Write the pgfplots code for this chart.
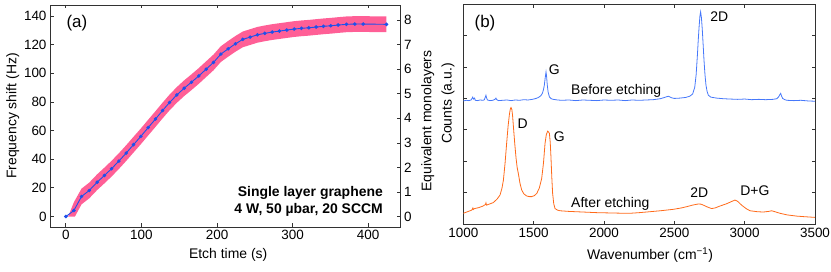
\documentclass[border=0pt]{standalone}
\usepackage{fontspec}
\setmainfont{Liberation Sans}
\usepackage{pgfplots}
\pgfplotsset{compat=1.18}
\definecolor{bandpink}{RGB}{255,95,150}
\definecolor{ptblue}{RGB}{30,80,235}
\definecolor{specblue}{RGB}{70,120,250}
\definecolor{specorange}{RGB}{255,106,26}
\definecolor{axgray}{RGB}{50,50,50}
\pgfplotsset{
  base/.style={
    scale only axis,
    font=\fontsize{14}{16}\selectfont,
    tick label style={font=\fontsize{13.5}{15}\selectfont},
    /pgf/number format/assume math mode=true,
    /pgf/number format/1000 sep={},
    tick align=inside,
    major tick length=3.5bp,
    axis line style={axgray, line width=0.8bp},
    every tick/.style={axgray, line width=0.8bp},
    clip=true,
  }
}
\begin{document}
\begin{tikzpicture}
\useasboundingbox (0bp,0bp) rectangle (831bp,272bp);
% ---------------- panel (a) ----------------
\begin{axis}[base,
  width=350.7bp, height=222bp, at={(50bp,45bp)}, anchor=south west,
  xmin=-21, xmax=443, ymin=-7.3, ymax=147.7,
  xtick={0,100,...,400}, ytick={0,20,...,140},
  ytick pos=left,
  xlabel={Etch time (s)}, ylabel={Frequency shift (Hz)},
  xlabel style={at={(axis description cs:0.508,-0.126)}, anchor=center},
  ylabel style={at={(axis description cs:-0.106,0.5)}, anchor=center},
]
\addplot[fill=bandpink, draw=none, forget plot] coordinates {
(3,0) (10.6,10) (20.7,19.5) (30.9,23.7) (41.4,29.5) (51.1,34.2) (60.4,38.9) (70.1,44.2)
(79.8,49.8) (89.5,55.7) (99.2,61.5) (108.9,67.6) (118.6,73.6) (127.9,79.5) (137.1,85.1)
(146.8,90.4) (156.5,95.1) (166.2,99.3) (175.9,103.7) (185.6,108.4) (195.3,113.1) (205.0,118.9)
(214.7,122.6) (224.4,126.1) (234.1,129.2) (243.8,130.8) (253.5,132.4) (263.2,133.4) (272.9,134.3)
(282.6,135.0) (292.3,135.7) (302.0,136.4) (311.7,136.9) (321.4,137.3) (331.1,137.8) (340.8,138.3)
(350.5,138.7) (360.2,139.2) (371.2,139.7) (382.3,139.9) (393.3,139.9) (424.2,139.7)
(424.2,128.7) (393.3,128.9) (382.3,128.9) (371.2,128.7) (360.2,128.2) (350.5,127.7) (340.8,127.3)
(331.1,126.8) (321.4,126.3) (311.7,125.9) (302.0,125.4) (292.3,124.7) (282.6,124.0) (272.9,123.3)
(263.2,122.4) (253.5,121.4) (243.8,119.8) (234.1,118.2) (224.4,115.1) (214.7,111.6) (205.0,107.9)
(195.3,102.1) (185.6,97.4) (175.9,92.7) (166.2,88.3) (156.5,84.1) (146.8,79.4) (137.1,74.1)
(127.9,68.5) (118.6,62.6) (108.9,56.6) (99.2,50.5) (89.5,44.7) (79.8,38.8) (70.1,33.2)
(60.4,27.9) (51.1,23.2) (41.4,18.5) (30.9,12.7) (20.7,8.5) (12,0) (3,0)
};
\addplot[ptblue, line width=0.9bp, mark=*, mark size=1.3bp, mark options={draw=ptblue, fill=ptblue}] coordinates {
(0,0) (10.6,4.2) (20.7,14.0) (30.9,18.2) (41.4,24.0) (51.1,28.7) (60.4,33.4) (70.1,38.7)
(79.8,44.3) (89.5,50.2) (99.2,56.0) (108.9,62.1) (118.6,68.1) (127.9,74.0) (137.1,79.6)
(146.8,84.9) (156.5,89.6) (166.2,93.8) (175.9,98.2) (185.6,102.9) (195.3,107.6) (205.0,113.4)
(214.7,117.1) (224.4,120.6) (234.1,123.7) (243.8,125.3) (253.5,126.9) (263.2,127.9) (272.9,128.8)
(282.6,129.5) (292.3,130.2) (302.0,130.9) (311.7,131.4) (321.4,131.8) (331.1,132.3) (340.8,132.8)
(350.5,133.2) (360.2,133.7) (371.2,134.2) (382.3,134.4) (393.3,134.4) (424.2,134.2)
};
\node[font=\fontsize{17}{19}\selectfont, anchor=center] at (axis cs:14.6,135) {(a)};
\node[font=\fontsize{14}{17}\selectfont\bfseries, align=right, anchor=east] at (axis cs:424,10.5)
  {Single layer graphene\\4 W, 50 \textmu bar, 20 SCCM};
\end{axis}
\begin{axis}[base,
  width=350.7bp, height=222bp, at={(50bp,45bp)}, anchor=south west,
  xmin=-21, xmax=443, ymin=-0.42, ymax=8.61,
  axis x line=none, axis y line*=right,
  ytick={0,1,...,8},
  ylabel={Equivalent monolayers},
  ylabel style={at={(axis description cs:1.077,0.477)}, anchor=center},
]
\end{axis}
% ---------------- panel (b) ----------------
\begin{axis}[base,
  width=351.7bp, height=220.3bp, at={(463.3bp,47.7bp)}, anchor=south west,
  xmin=1000, xmax=3500, ymin=0, ymax=7,
  xtick={1000,1500,...,3500}, ytick={0,1,...,7}, yticklabels={},
  xlabel={Wavenumber (cm\textsuperscript{\char"2212 1})}, ylabel={Counts (a.u.)},
  xlabel style={at={(axis description cs:0.531,-0.139)}, anchor=center},
  ylabel style={at={(axis description cs:-0.0435,0.548)}, anchor=center},
]
\addplot[specblue, line width=0.8bp] coordinates {
(1000,3.92) (1020,3.94) (1040,3.93) (1055,3.95) (1062,4.00) (1067,4.04) (1072,3.98) (1080,4.01)
(1085,3.94) (1100,3.93) (1120,3.95) (1140,3.94) (1150,3.96) (1157,4.05) (1161,4.10) (1165,4.02)
(1172,3.95) (1190,3.93) (1210,3.94) (1225,3.97) (1232,4.01) (1238,3.96) (1250,3.93) (1280,3.94)
(1310,3.95) (1340,3.93) (1370,3.95) (1400,3.94) (1430,3.96) (1460,3.95) (1490,3.97) (1510,3.99)
(1530,4.02) (1550,4.08) (1562,4.16) (1570,4.28) (1576,4.42) (1582,4.65) (1588,4.84) (1592,4.70)
(1597,4.42) (1603,4.20) (1612,4.05) (1625,3.99) (1640,3.97) (1670,3.95) (1700,3.94) (1750,3.95)
(1800,3.93) (1850,3.95) (1900,3.94) (1950,3.93) (2000,3.95) (2050,3.94) (2100,3.95) (2150,3.93)
(2200,3.95) (2250,3.94) (2300,3.95) (2350,3.96) (2400,3.99) (2430,4.03) (2458,4.07) (2480,4.02)
(2500,4.00) (2540,4.01) (2580,4.03) (2610,4.07) (2630,4.14) (2645,4.35) (2655,4.75) (2664,5.37)
(2670,5.85) (2676,6.27) (2682,6.62) (2687,6.75) (2693,6.55) (2699,6.17) (2705,5.70) (2711,5.21)
(2718,4.75) (2725,4.42) (2733,4.22) (2742,4.10) (2760,4.04) (2801,4.01) (2850,3.99) (2896,3.98)
(2950,3.97) (3000,3.98) (3050,3.96) (3100,3.97) (3150,3.96) (3200,3.97) (3228,3.99) (3240,4.04)
(3250,4.12) (3256,4.16) (3262,4.08) (3270,4.00) (3285,3.96) (3300,3.94) (3350,3.93) (3400,3.94)
(3450,3.92) (3500,3.91)
};
\addplot[specorange, line width=0.8bp] coordinates {
(1000,0.35) (1030,0.40) (1060,0.45) (1068,0.52) (1071,0.47) (1080,0.50) (1110,0.53) (1140,0.58)
(1158,0.63) (1161,0.68) (1165,0.61) (1190,0.65) (1213,0.69) (1240,0.80) (1261,0.93) (1275,1.15)
(1285,1.40) (1297,1.95) (1308,2.57) (1318,3.10) (1327,3.47) (1334,3.66) (1339,3.71) (1345,3.65)
(1350,3.47) (1358,3.00) (1366,2.55) (1375,2.10) (1383,1.80) (1391,1.62) (1403,1.30) (1415,1.09)
(1430,0.97) (1450,0.90) (1470,0.88) (1486,0.88) (1505,0.91) (1522,0.98) (1540,1.15) (1557,1.45)
(1570,1.95) (1581,2.57) (1590,2.85) (1600,2.96) (1606,2.93) (1612,2.89) (1618,2.60) (1623,2.15)
(1629,1.50) (1635,0.98) (1643,0.65) (1652,0.50) (1670,0.45) (1687,0.43) (1750,0.41) (1850,0.39)
(1950,0.37) (2050,0.36) (2150,0.35) (2185,0.35) (2250,0.37) (2327,0.40) (2400,0.43) (2492,0.475)
(2550,0.52) (2588,0.56) (2630,0.61) (2670,0.645) (2690,0.64) (2706,0.61) (2735,0.55) (2765,0.50)
(2790,0.52) (2824,0.58) (2870,0.65) (2905,0.72) (2931,0.77) (2950,0.73) (2978,0.61) (3010,0.50)
(3038,0.43) (3090,0.40) (3132,0.39) (3170,0.41) (3192,0.43) (3215,0.40) (3251,0.35) (3300,0.30)
(3370,0.26) (3430,0.24) (3500,0.22)
};
\node[font=\fontsize{17}{19}\selectfont] at (axis cs:1154,6.39) {(b)};
\node at (axis cs:1647,4.92) {G};
\node[anchor=west] at (axis cs:1742,4.24) {Before etching};
\node at (axis cs:1422,3.21) {D};
\node at (axis cs:1682,2.78) {G};
\node[anchor=west] at (axis cs:1742,0.64) {After etching};
\node at (axis cs:2820,6.59) {2D};
\node at (axis cs:2677,1.02) {2D};
\node at (axis cs:3073,1.06) {D+G};
\end{axis}
\end{tikzpicture}
\end{document}
